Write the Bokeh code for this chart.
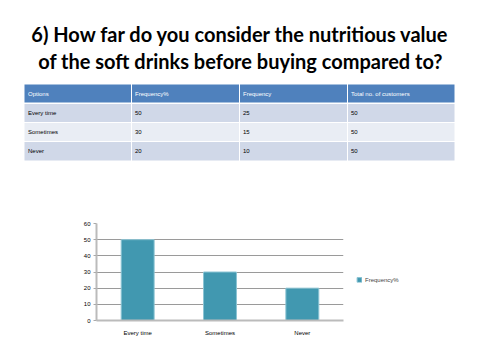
from bokeh.plotting import figure
from bokeh.layouts import column
from bokeh.models import Range1d, FactorRange, Legend, LegendItem, ColumnDataSource, FixedTicker
from bokeh.core.properties import value
from bokeh.embed import file_html
from bokeh.resources import INLINE

# ---- data ----
title_lines = ["6) How far do you consider the nutritious value",
               "of the soft drinks before buying compared to?"]
headers = ["Options", "Frequency%", "Frequency", "Total no. of customers"]
options = ["Every time", "Sometimes", "Never"]
freq_pct = [50, 30, 20]
freq = [25, 15, 10]
total = [50, 50, 50]
series_name = "Frequency%"

W = 472
TOP_H = 200

# ---- top: title and table (pixel coordinates) ----
top = figure(width=W, height=TOP_H, x_range=Range1d(0, W), y_range=Range1d(TOP_H, 0),
             output_backend="svg", toolbar_location=None, min_border=0)
top.frame_align = False
top.axis.visible = False
top.grid.visible = False
top.outline_line_color = None

top.text(x=[240, 240], y=[33, 60], text=title_lines, text_align="center",
         text_baseline="middle", text_font=value("Lato"), text_font_style="bold",
         text_font_size="20px", text_color="#000000")

col_edges = [24, 131, 239, 347, 454]
row_edges = [(84, 102), (103.5, 121.5), (122.5, 140.5), (141.5, 160)]
row_colors = ["#4F81BD", "#D0D8E8", "#E9EDF4", "#D0D8E8"]

table_rows = [headers] + [[o, str(a), str(b), str(c)] for o, a, b, c in zip(options, freq_pct, freq, total)]

rx, ry, rw, rh, rc = [], [], [], [], []
tx, ty, tt, tc = [], [], [], []
for ri, (y0, y1) in enumerate(row_edges):
    for ci in range(4):
        x0 = col_edges[ci] + (0.5 if ci > 0 else 0)
        x1 = col_edges[ci + 1] - (0.5 if ci < 3 else 0)
        rx.append((x0 + x1) / 2); ry.append((y0 + y1) / 2)
        rw.append(x1 - x0); rh.append(y1 - y0); rc.append(row_colors[ri])
        tx.append(col_edges[ci] + 3.5); ty.append((y0 + y1) / 2)
        tt.append(table_rows[ri][ci]); tc.append("#FFFFFF" if ri == 0 else "#000000")

top.rect(x=rx, y=ry, width=rw, height=rh, fill_color=rc, line_color=None)
top.text(x=tx, y=ty, text=tt, text_color=tc, text_font=value("Liberation Sans"),
         text_font_size="6px", text_baseline="middle", text_align="left")

# ---- bottom: bar chart ----
src = ColumnDataSource(dict(x=options, y=freq_pct))
p = figure(frame_width=247, frame_height=97, x_range=FactorRange(*options, range_padding=0),
           y_range=Range1d(0, 60), output_backend="svg", toolbar_location=None,
           min_border_left=96, min_border_right=0, min_border_top=23, min_border_bottom=26)
p.frame_align = False
r = p.vbar(x="x", top="y", width=0.4, source=src, fill_color="#4198B0", line_color="#8CC4D4",
           line_width=1)
p.outline_line_color = None
p.xgrid.visible = False
p.ygrid.grid_line_color = "#9A9A9A"
p.ygrid.grid_line_width = 1
p.yaxis.ticker = FixedTicker(ticks=[0, 10, 20, 30, 40, 50, 60])
p.yaxis.axis_line_color = "#BBBBBB"
p.yaxis.axis_line_width = 2
p.xaxis.axis_line_color = "#BBBBBB"
p.xaxis.axis_line_width = 2
p.yaxis.major_tick_line_color = "#AAAAAA"
p.yaxis.major_tick_out = 3
p.yaxis.major_tick_in = 0
p.yaxis.minor_tick_line_color = None
p.xaxis.major_tick_line_color = None
p.yaxis.major_label_text_font_size = "6px"
p.xaxis.major_label_text_font_size = "6px"
p.yaxis.major_label_text_font = "Liberation Sans"
p.xaxis.major_label_text_font = "Liberation Sans"
p.yaxis.major_label_text_color = "#000000"
p.xaxis.major_label_text_color = "#000000"
p.yaxis.major_label_standoff = 3
p.xaxis.major_label_standoff = 3

legend = Legend(items=[LegendItem(label=series_name, renderers=[r])], location="center_left",
                border_line_color=None, background_fill_alpha=0, padding=0, margin=13,
                glyph_width=6, glyph_height=6, label_height=6, label_standoff=3,
                label_text_font_size="6px", label_text_font="Liberation Sans",
                title=" ", title_text_font_size="10px", title_standoff=4)
p.add_layout(legend, "right")

layout = column(top, p, spacing=0)
open("out.html", "w").write(file_html(layout, INLINE))
